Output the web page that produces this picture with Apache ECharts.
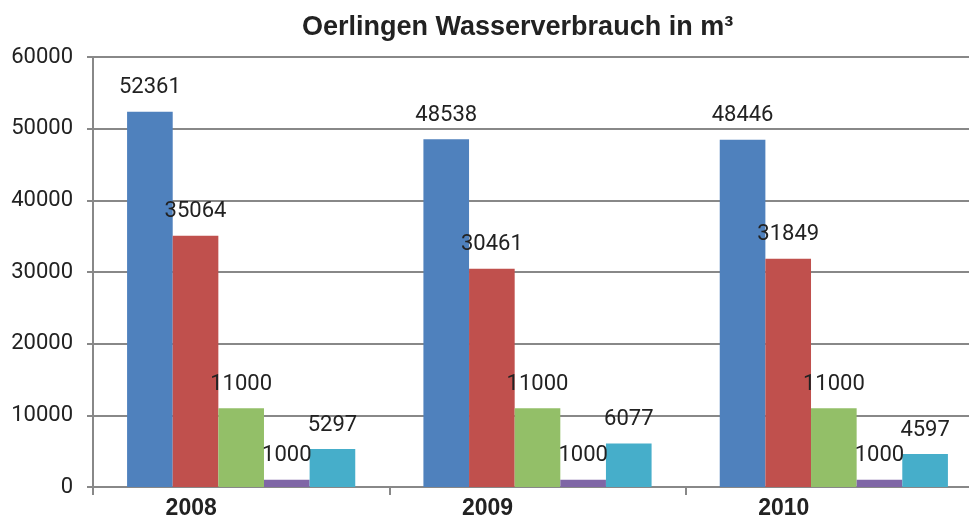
<!DOCTYPE html>
<html>
<head>
<meta charset="utf-8">
<script src="https://cdn.jsdelivr.net/npm/echarts@6/dist/echarts.min.js"></script>
<style>html,body{margin:0;padding:0;background:#fff;overflow:hidden}#c{width:1000px;height:520px}</style>
</head>
<body>
<div id="c"></div>
<script>
var categories = ['2008', '2009', '2010'];
var series1 = [52361, 48538, 48446];
var series2 = [35064, 30461, 31849];
var series3 = [11000, 11000, 11000];
var series4 = [1000, 1000, 1000];
var series5 = [5297, 6077, 4597];
var yTicks = [0, 10000, 20000, 30000, 40000, 50000, 60000];

var colors = ['#4F81BD', '#C0504D', '#93BF68', '#7F66A6', '#46AECA'];
var names = ['Reihe 1', 'Reihe 2', 'Reihe 3', 'Reihe 4', 'Reihe 5'];
var data = [series1, series2, series3, series4, series5];
var numFont = 'Roboto';

var chart = echarts.init(document.getElementById('c'));
chart.setOption({
  animation: false,
  title: {
    text: 'Oerlingen Wasserverbrauch in m³',
    left: 302,
    top: 14,
    padding: 0,
    textStyle: { fontFamily: 'Liberation Sans, Arial', fontWeight: 'bold', fontSize: 27, color: '#222' }
  },
  grid: { left: 93, top: 57, bottom: 31, right: 18, containLabel: false },
  xAxis: {
    type: 'category',
    data: categories,
    axisLine: { lineStyle: { color: '#888', width: 2 } },
    axisTick: { show: true, length: 8, lineStyle: { color: '#888', width: 2 } },
    axisLabel: {
      fontFamily: 'Liberation Sans, Arial', fontWeight: 'bold', fontSize: 23, color: '#222',
      margin: 10, padding: [0, 100, 0, 0]
    }
  },
  yAxis: {
    type: 'value',
    min: yTicks[0],
    max: yTicks[yTicks.length - 1],
    interval: 10000,
    axisLine: { show: true, lineStyle: { color: '#888', width: 2 } },
    axisTick: { show: true, length: 6, lineStyle: { color: '#888', width: 2 } },
    splitLine: { show: true, lineStyle: { color: '#888', width: 2 } },
    axisLabel: { fontFamily: numFont, fontSize: 22, color: '#222', margin: 20, formatter: function (v) { return String(v); } }
  },
  series: data.map(function (d, i) {
    return {
      name: names[i],
      type: 'bar',
      data: d,
      barGap: '0%',
      barCategoryGap: '23%',
      itemStyle: { color: colors[i] },
      label: {
        show: true,
        position: 'top',
        distance: 13,
        fontFamily: numFont,
        fontSize: 22,
        color: '#222'
      }
    };
  })
});
</script>
</body>
</html>
